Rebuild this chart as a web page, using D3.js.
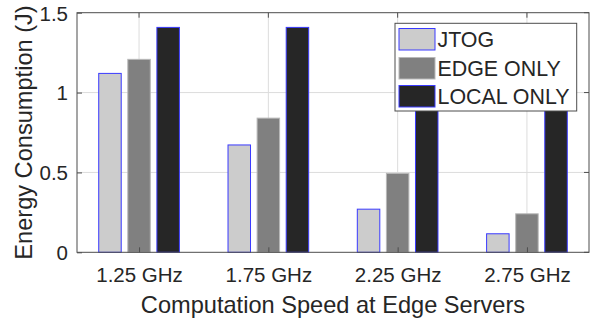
<!DOCTYPE html>
<html><head><meta charset="utf-8">
<script src="https://cdn.jsdelivr.net/npm/d3@7"></script>
<style>body{margin:0;background:#fff}svg{display:block}text{font-family:"Liberation Sans",Arial,sans-serif;fill:#262626}</style>
</head><body>
<script>
const categories = ["1.25 GHz","1.75 GHz","2.25 GHz","2.75 GHz"];
const seriesNames = ["JTOG","EDGE ONLY","LOCAL ONLY"];
const jtog = [1.12, 0.672, 0.27, 0.116];
const edgeOnly = [1.208, 0.84, 0.494, 0.241];
const localOnly = [1.408, 1.408, 1.408, 1.408];
const yTicks = [0, 0.5, 1, 1.5];
const yTickLabels = ["0","0.5","1","1.5"];
const fills = ["#cccccc","#808080","#262626"];
const strokes = ["#3a3aff","#b8b8b8","#3a3aff"];

const W=592,H=322, L=77, R=589, T=12.7, B=252.3;
const svg=d3.select("body").append("svg").attr("width",W).attr("height",H);
const x=d3.scaleLinear().domain([0.52,4.48]).range([L,R]);
const y=d3.scaleLinear().domain([0,1.5]).range([B,T]);
const series=[jtog,edgeOnly,localOnly];
const off=d3.scaleLinear().domain([0,2]).range([-0.225,0.225]);
const bw=x(0.174)-x(0);

// grid
svg.append("g").selectAll("line.h").data(yTicks.slice(1,3)).join("line")
  .attr("x1",L).attr("x2",R).attr("y1",d=>y(d)).attr("y2",d=>y(d)).attr("stroke","#dcdcdc");
svg.append("g").selectAll("line.v").data(categories).join("line")
  .attr("x1",(d,i)=>x(i+1)).attr("x2",(d,i)=>x(i+1)).attr("y1",T).attr("y2",B).attr("stroke","#dcdcdc");

// bars
series.forEach((s,si)=>{
  svg.append("g").selectAll("rect").data(s).join("rect")
    .attr("x",(d,i)=>x(i+1+off(si))-bw/2).attr("width",bw)
    .attr("y",d=>y(d)).attr("height",d=>y(0)-y(d))
    .attr("fill",fills[si]).attr("stroke",strokes[si]).attr("stroke-width",1);
});

// axes
svg.append("rect").attr("x",L).attr("y",T).attr("width",R-L).attr("height",B-T).attr("fill","none").attr("stroke","#4d4d4d").attr("stroke-width",1);
const xa=d3.axisBottom(x).tickValues([1,2,3,4]).tickFormat((d,i)=>categories[i]).tickSizeInner(-5).tickSizeOuter(0);
const gx=svg.append("g").attr("transform",`translate(0,${B})`).call(xa);
gx.select(".domain").remove();
gx.selectAll("line").attr("stroke","#4d4d4d");
gx.selectAll("text").attr("font-size","20.5px").attr("fill","#262626").attr("dy",null).attr("y",29.5);
const ya=d3.axisLeft(y).tickValues(yTicks).tickFormat((d,i)=>yTickLabels[i]).tickSizeInner(-5).tickSizeOuter(0);
const gy=svg.append("g").attr("transform",`translate(${L},0)`).call(ya);
gy.select(".domain").remove();
gy.selectAll("line").attr("stroke","#4d4d4d");
gy.selectAll("text").attr("font-size","20.5px").attr("fill","#262626").attr("x",-9).attr("dy","0.36em");
// top/right ticks
svg.append("g").selectAll("line").data([1,2,3,4]).join("line")
  .attr("x1",d=>x(d)).attr("x2",d=>x(d)).attr("y1",T).attr("y2",T+5).attr("stroke","#4d4d4d");
svg.append("g").selectAll("line").data(yTicks).join("line")
  .attr("x1",R).attr("x2",R-5).attr("y1",d=>y(d)).attr("y2",d=>y(d)).attr("stroke","#4d4d4d");

// labels
svg.append("text").attr("x",(L+R)/2).attr("y",313).attr("text-anchor","middle").attr("font-size","23.6px").text("Computation Speed at Edge Servers");
svg.append("text").attr("transform",`translate(32,${(T+B)/2}) rotate(-90)`).attr("text-anchor","middle").attr("font-size","23.6px").text("Energy Consumption (J)");

// legend
const lg=svg.append("g");
lg.append("rect").attr("x",395).attr("y",23.3).attr("width",181.7).attr("height",87.7).attr("fill","#fff").attr("stroke","#4d4d4d");
const rowsY=[28.5,57.5,85.5];
seriesNames.forEach((n,i)=>{
  lg.append("rect").attr("x",399).attr("y",rowsY[i]).attr("width",36).attr("height",21.5).attr("fill",fills[i]).attr("stroke",strokes[i]);
  lg.append("text").attr("x",437.5).attr("y",rowsY[i]+18.5).attr("font-size","21.4px").attr("fill","#000").text(n);
});
</script>
</body></html>
